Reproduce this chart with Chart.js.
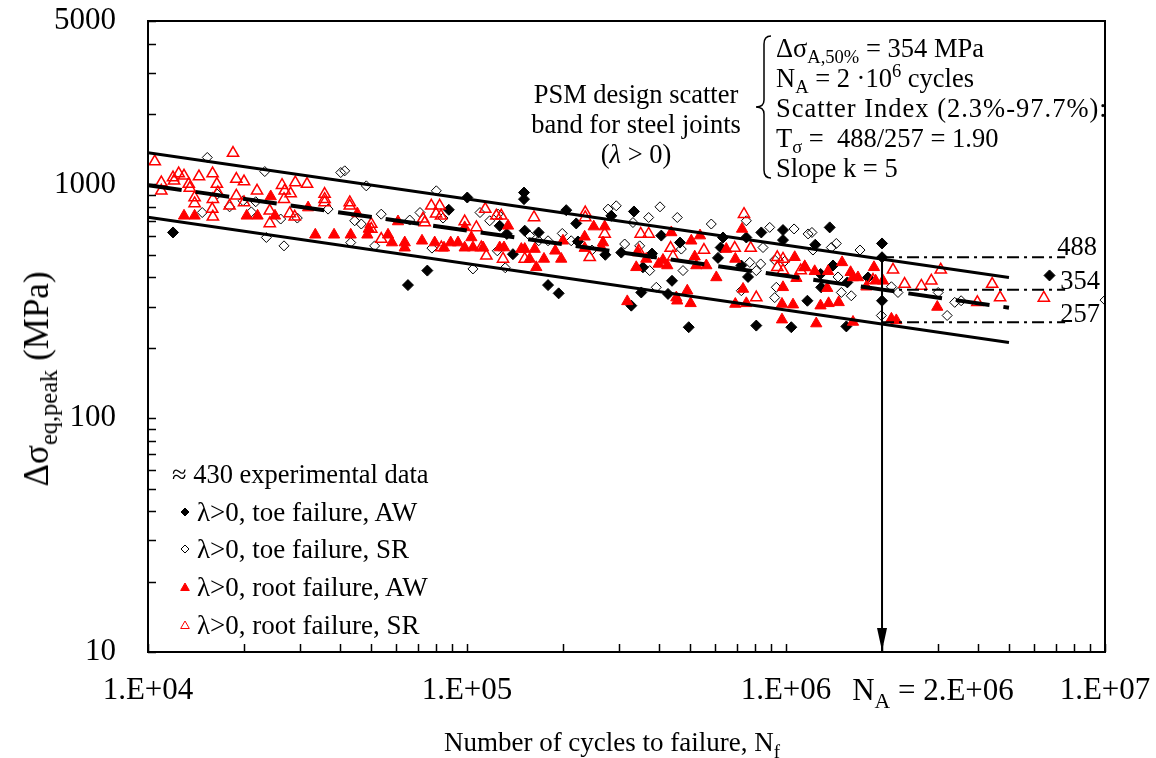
<!DOCTYPE html>
<html>
<head>
<meta charset="utf-8">
<script src="https://cdn.jsdelivr.net/npm/chart.js@4.4.0/dist/chart.umd.min.js"></script>
<style>
  body { margin: 0; background: #fff; }
  #wrap { position: relative; width: 1156px; height: 758px; font-family: 'Liberation Serif', 'Times New Roman', serif; color: #000; }
  #chart { position: absolute; left: 0; top: 0; }
  .t { position: absolute; white-space: nowrap; font-size: 26.5px; line-height: 30px; }
  .c { transform: translate(-50%, -50%); }
  sub { font-size: 0.7em; vertical-align: -0.35em; line-height: 0; }
  sup { font-size: 0.7em; vertical-align: 0.55em; line-height: 0; }
</style>
</head>
<body>
<div id="wrap">
  <canvas id="chart" width="1156" height="758"></canvas>

  <div class="t" style="left:37px; top:379px; font-size:35px; transform: translate(-50%,-50%) rotate(-90deg);">&Delta;&sigma;<sub>eq,peak</sub> (MPa)</div>
  <div class="t c" style="left:612px; top:742px; font-size:27px;">Number of cycles to failure, N<sub>f</sub></div>
  <div class="t c" style="left:933px; top:690px; font-size:31px;">N<sub>A</sub> = 2.E+06</div>

  <div class="t c" style="left:636px; top:124px; text-align:center;">PSM design scatter<br>band for steel joints<br>(<i>&lambda;</i> &gt; 0)</div>
  <div class="t" style="left:776px; top:33px;">
    &Delta;&sigma;<sub>A,50%</sub> = 354 MPa<br>
    N<sub>A</sub> = 2 &middot;10<sup>6</sup> cycles<br>
    <span style="letter-spacing:1px;">Scatter Index (2.3%-97.7%):</span><br>
    T<sub>&sigma;</sub> =&nbsp; 488/257 = 1.90<br>
    Slope k = 5
  </div>

  <div class="t c" style="left:1077px; top:246px;">488</div>
  <div class="t c" style="left:1080px; top:280px;">354</div>
  <div class="t c" style="left:1080px; top:313px;">257</div>

  <div class="t" style="left:172px; top:459px;">&asymp; 430 experimental data</div>
  <div class="t" style="left:197px; top:497px; font-size:27px;">&lambda;&gt;0, toe failure, AW</div>
  <div class="t" style="left:197px; top:534px; font-size:27px;">&lambda;&gt;0, toe failure, SR</div>
  <div class="t" style="left:197px; top:572px; font-size:27px;">&lambda;&gt;0, root failure, AW</div>
  <div class="t" style="left:197px; top:610px; font-size:27px;">&lambda;&gt;0, root failure, SR</div>
</div>

<script>
// axis ticks
const xDecades = [1e4, 1e5, 1e6, 1e7];
const xTickLabels = ['1.E+04', '1.E+05', '1.E+06', '1.E+07'];
const yTickValues = [10, 100, 1000, 5000];
const yTickLabels = ['10', '100', '1000', '5000'];

// PSM scatter band
const bandN = [1e4, 5e6];
const bandUpper = [1367, 400];
const bandMedian = [993, 297];
const bandLower = [724, 211];
const naCycles = 2e6;
const refLevels = [488, 354, 257];
const refLineN = [2e6, 7.5e6];

// [cycles, stress range MPa]
const toeAW = [[11980,623],[87700,779],[75100,428],[65300,371],[100200,879],[150900,923],[150900,865],[204700,776],[220000,681],[283400,734],[126600,665],[151700,634],[167700,623],[139300,503],[179500,371],[193800,342],[304500,511],[271400,500],[222700,570],[133300,614],[333700,766],[406500,604],[465300,564],[380100,506],[356100,442],[439200,387],[351800,345],[426700,340],[327400,303],[495500,245],[634700,593],[624100,537],[612000,485],[751000,593],[836700,623],[978500,638],[978500,578],[724400,450],[760300,402],[807000,249],[1371000,655],[1235000,552],[2000000,559],[2000000,488],[1404000,450],[1284000,414],[1289000,363],[1557000,381],[1808000,400],[2000000,318],[1167000,318],[1039000,245],[1546000,247],[6700000,408]];

const toeSR = [[15340,1304],[23230,1135],[14790,758],[18020,802],[19860,851],[21760,843],[21080,763],[23500,593],[26690,546],[26060,711],[29380,718],[16480,909],[40200,1124],[41370,1143],[48340,986],[80130,939],[53850,746],[46620,677],[44460,699],[66140,704],[71230,758],[43200,564],[51350,546],[77640,534],[84110,718],[36680,784],[109850,758],[117800,699],[125100,746],[157200,604],[179500,574],[198900,617],[212200,574],[104400,435],[131800,440],[293700,810],[276900,784],[312100,556],[246400,524],[167700,574],[124450,520],[402700,802],[371100,722],[456300,722],[583100,677],[331300,687],[475500,428],[392100,363],[347800,546],[373800,428],[751000,699],[889100,655],[847100,537],[769700,464],[833000,457],[807100,428],[921700,475],[990600,469],[932300,363],[921700,328],[724400,351],[469700,529],[1060000,645],[1173000,614],[1206000,623],[1438000,559],[1387000,537],[1706000,524],[1215000,524],[1456000,402],[1491000,345],[1602000,334],[1990000,275],[2140000,365],[2244000,345],[3000000,345],[3200000,275],[3380000,313],[3540000,318],[10000000,320]];

const rootAW = [[12970,734],[14000,734],[20390,734],[22050,734],[24250,888],[25010,734],[31760,796],[33450,609],[38310,609],[43200,609],[45300,751],[48700,609],[49200,645],[56550,609],[60770,694],[58170,564],[63800,536],[63800,564],[72270,574],[79200,564],[84700,536],[88900,564],[93700,564],[98350,536],[98350,655],[103200,593],[104400,537],[112300,537],[126600,537],[130600,537],[134500,665],[148000,529],[151700,529],[163000,529],[157200,480],[164900,442],[174300,480],[189100,520],[197400,480],[199900,574],[233800,597],[233800,534],[249600,660],[263700,537],[266900,564],[270200,660],[318000,316],[343500,511],[364700,480],[339300,442],[398900,457],[411500,475],[424400,450],[436900,623],[504800,574],[537600,604],[517400,491],[523500,450],[562700,450],[604700,400],[649900,529],[693600,480],[728100,645],[490400,351],[453100,328],[456000,318],[502400,310],[733400,357],[693600,308],[751000,310],[978500,363],[971400,308],[971400,264],[1065000,488],[1145000,445],[1230000,425],[1355000,425],[1499000,464],[1594000,421],[1622000,400],[1681000,400],[1786000,365],[1887000,442],[2014000,387],[1910000,387],[1347000,360],[1078000,397],[1052000,306],[1283000,303],[1360000,310],[1463000,313],[1244000,254],[1622000,258],[2140000,266],[2217000,262],[2980000,299]];

const rootSR = [[10500,1253],[18470,1361],[11010,1019],[11980,1070],[12070,1036],[12480,1113],[12970,1088],[11010,939],[13420,1003],[13520,965],[14450,1080],[15940,1113],[16440,1003],[16560,923],[15970,865],[15900,784],[15970,727],[14000,879],[14000,829],[18920,1054],[20000,1029],[18920,894],[18020,810],[20000,837],[21970,939],[26310,993],[26820,939],[28000,914],[26690,865],[28960,1019],[31520,1003],[24080,771],[24080,681],[27810,751],[28840,727],[35780,909],[35780,865],[35780,837],[42900,837],[42900,810],[50100,677],[50100,645],[53850,584],[77290,810],[82100,810],[72800,713],[73700,687],[79980,749],[82900,734],[98350,694],[83100,537],[114100,784],[123600,734],[128100,734],[107000,655],[110900,537],[115000,495],[129700,480],[151700,480],[162200,722],[234800,758],[234800,722],[270200,614],[242500,488],[350300,614],[371100,614],[345200,520],[434800,534],[442300,491],[553200,524],[690700,534],[775000,534],[738500,746],[939000,488],[978500,480],[939000,442],[978500,428],[807000,328],[1112000,428],[1145000,442],[1874000,390],[2165000,431],[2354000,375],[2656000,368],[2855000,387],[3056000,431],[4430000,375],[4690000,328],[3980000,313],[6430000,327]];

const pts = arr => arr.map(p => ({ x: p[0], y: p[1] }));
const seg = (xs, ys) => xs.map((x, i) => ({ x: x, y: ys[i] }));

// minor tick positions on the log axes
const xMinor = [];
xDecades.slice(0, 3).forEach(d => { for (let m = 1; m <= 9; m++) xMinor.push(m * d); });
xMinor.push(1e7);
const yMinor = [];
[10, 100, 1000].forEach(d => { for (let m = 1; m <= 9; m++) if (m * d <= 5000) yMinor.push(m * d); });

const frameTicks = {
  id: 'frameTicks',
  afterDatasetsDraw(chart) {
    const { ctx, chartArea: a, scales: { x, y } } = chart;
    ctx.save();
    ctx.strokeStyle = '#000';
    ctx.fillStyle = '#000';
    ctx.lineWidth = 1.5;
    ctx.beginPath();
    xMinor.forEach(v => {
      const px = Math.round(x.getPixelForValue(v)) + 0.5;
      ctx.moveTo(px, a.bottom); ctx.lineTo(px, a.bottom - 8);
    });
    yMinor.forEach(v => {
      const py = Math.round(y.getPixelForValue(v)) + 0.5;
      ctx.moveTo(a.left, py); ctx.lineTo(a.left + 8, py);
    });
    ctx.stroke();
    ctx.lineWidth = 2;
    ctx.strokeRect(a.left, a.top, a.right - a.left, a.bottom - a.top);

    // arrow head at N_A
    const ax = x.getPixelForValue(naCycles);
    ctx.beginPath();
    ctx.moveTo(ax, a.bottom - 1);
    ctx.lineTo(ax - 5, a.bottom - 24);
    ctx.lineTo(ax + 5, a.bottom - 24);
    ctx.closePath();
    ctx.fill();

    // brace of the annotation block
    ctx.lineWidth = 1.5;
    ctx.beginPath();
    ctx.moveTo(771, 36);
    ctx.quadraticCurveTo(764, 36, 764, 44);
    ctx.lineTo(764, 100);
    ctx.quadraticCurveTo(764, 107, 756, 107);
    ctx.quadraticCurveTo(764, 107, 764, 114);
    ctx.lineTo(764, 170);
    ctx.quadraticCurveTo(764, 178, 771, 178);
    ctx.stroke();

    // legend markers
    const h = Chart.helpers;
    const mk = (style, r, fill, stroke, py) => {
      ctx.fillStyle = fill; ctx.strokeStyle = stroke; ctx.lineWidth = 1;
      h.drawPoint(ctx, { pointStyle: style, radius: r, rotation: 0, borderWidth: 1 }, 185, py);
    };
    mk('rectRot', 4, '#000', '#000', 512);
    mk('rectRot', 4, 'rgba(0,0,0,0)', '#000', 549);
    mk('triangle', 5, '#f00', '#f00', 588);
    mk('triangle', 5, 'rgba(0,0,0,0)', '#f00', 626);
    ctx.restore();
  }
};

const lineDs = (data, width, dash) => ({
  data: data, showLine: true, pointRadius: 0, borderColor: '#000',
  borderWidth: width, borderDash: dash || [], fill: false
});

const datasets = [
  lineDs(seg(bandN, bandUpper), 3),
  lineDs(seg(bandN, bandMedian), 4, [34, 14]),
  lineDs(seg(bandN, bandLower), 3),
  lineDs(seg([naCycles, naCycles], [refLevels[0], 10]), 2),
  ...refLevels.map(l => lineDs(seg(refLineN, [l, l]), 2, [12, 5, 3, 5])),
  { label: 'λ>0, root failure, SR', data: pts(rootSR), pointStyle: 'triangle', pointRadius: 6.5,
    backgroundColor: 'rgba(0,0,0,0)', borderColor: '#ff0000', borderWidth: 1.5 },
  { label: 'λ>0, root failure, AW', data: pts(rootAW), pointStyle: 'triangle', pointRadius: 6.5,
    backgroundColor: '#ff0000', borderColor: '#ff0000', borderWidth: 1 },
  { label: 'λ>0, toe failure, SR', data: pts(toeSR), pointStyle: 'rectRot', pointRadius: 5,
    backgroundColor: 'rgba(0,0,0,0)', borderColor: '#000', borderWidth: 1 },
  { label: 'λ>0, toe failure, AW', data: pts(toeAW), pointStyle: 'rectRot', pointRadius: 5.5,
    backgroundColor: '#000', borderColor: '#000', borderWidth: 1 }
];

const tickFont = { family: 'Liberation Serif', size: 31 };

// keep the plot frame fixed: no extra room for overhanging tick labels
const noPad = s => { s.paddingLeft = 0; s.paddingRight = 0; s.paddingTop = 0; s.paddingBottom = 0; };

new Chart(document.getElementById('chart'), {
  type: 'scatter',
  data: { datasets: datasets },
  options: {
    responsive: false,
    animation: false,
    devicePixelRatio: 1,
    layout: { padding: { top: 21, right: 51, left: 0, bottom: 0 } },
    plugins: { legend: { display: false }, tooltip: { enabled: false } },
    scales: {
      x: {
        type: 'logarithmic', min: 1e4, max: 1e7,
        afterFit: s => { s.height = 106; noPad(s); },
        afterBuildTicks: s => { s.ticks = xDecades.map(v => ({ value: v })); },
        grid: { display: false, drawTicks: false },
        border: { display: false },
        ticks: { autoSkip: false, maxRotation: 0, padding: 20, color: '#000', font: tickFont,
                 callback: (v, i) => xTickLabels[i] }
      },
      y: {
        type: 'logarithmic', min: 10, max: 5000,
        afterFit: s => { s.width = 148; noPad(s); },
        afterBuildTicks: s => { s.ticks = yTickValues.map(v => ({ value: v })); },
        grid: { display: false, drawTicks: false },
        border: { display: false },
        ticks: { autoSkip: false, padding: 32, color: '#000', font: tickFont,
                 callback: (v, i) => yTickLabels[i] }
      }
    }
  },
  plugins: [frameTicks]
});
</script>
</body>
</html>
